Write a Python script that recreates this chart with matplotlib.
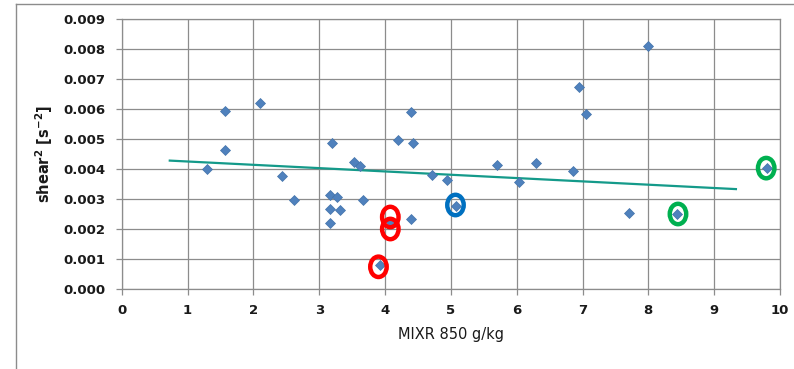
import numpy as np
import matplotlib
matplotlib.use("Agg")
import matplotlib.pyplot as plt
from matplotlib.patches import Ellipse
from matplotlib.lines import Line2D

# mixing ratio at 850 hPa (g/kg) vs squared wind shear (s^-2)
mixr = [1.29, 1.57, 1.57, 2.10, 2.43, 2.61, 3.16, 3.16, 3.16, 3.20, 3.27, 3.31,
        3.53, 3.62, 3.67, 3.93, 4.09, 4.19, 4.39, 4.39, 4.42, 4.71, 4.94, 5.08,
        5.70, 6.04, 6.29, 6.86, 6.95, 7.06, 7.71, 7.99, 8.43, 9.80]
shear2 = [0.00399, 0.00593, 0.00462, 0.00621, 0.00377, 0.00297, 0.00313, 0.00266,
          0.00221, 0.00488, 0.00306, 0.00263, 0.00422, 0.00410, 0.00297, 0.00080,
          0.00224, 0.00497, 0.00591, 0.00232, 0.00488, 0.00380, 0.00363, 0.00278,
          0.00413, 0.00358, 0.00421, 0.00394, 0.00673, 0.00582, 0.00252, 0.00810,
          0.00250, 0.00404]

# linear trend line end points
trend_x = [0.73, 9.33]
trend_y = [0.00428, 0.00333]

# hand-drawn rings around selected cases
ring_x = [4.08, 4.08, 3.90, 5.07, 8.45, 9.79]
ring_y = [0.00240, 0.00200, 0.00074, 0.00280, 0.00250, 0.00403]
ring_colors = ["#ff0000", "#ff0000", "#ff0000", "#0070c0", "#00b050", "#00b050"]

xticks = np.arange(0, 11, 1)
yticks = np.arange(0, 0.0091, 0.001)

grid_c = "#8c8c8c"

fig = plt.figure(figsize=(7.94, 3.69), dpi=100)
fig.patch.set_facecolor("white")
ax = fig.add_axes([0.1533, 0.2168, 0.8291, 0.7317])

ax.set_xlim(0, 10)
ax.set_ylim(0, 0.009)
ax.set_xticks(xticks)
ax.set_yticks(yticks)
ax.set_xticklabels([str(t) for t in xticks])
ax.set_yticklabels(["%.3f" % t for t in yticks])
ax.grid(True, color=grid_c, linewidth=0.9)
ax.set_axisbelow(True)
for s in ax.spines.values():
    s.set_color(grid_c)
    s.set_linewidth(0.9)
ax.tick_params(axis="both", direction="out", length=4, width=0.9, color=grid_c,
               labelsize=9.5, labelcolor="#1a1a1a")
ax.tick_params(axis="x", pad=7)
ax.tick_params(axis="y", pad=8)
for lab in ax.get_xticklabels() + ax.get_yticklabels():
    lab.set_fontweight("bold")

ax.plot(trend_x, trend_y, color="#149a8a", linewidth=1.6, zorder=2)
ax.plot(mixr, shear2, linestyle="none", marker="D", markersize=5,
        color="#4f81bd", markeredgecolor="#4373aa", markeredgewidth=0.5, zorder=3)

for rx, ry, rc in zip(ring_x, ring_y, ring_colors):
    ax.add_patch(Ellipse((rx, ry), 0.25, 0.00068, fill=False, edgecolor=rc,
                         linewidth=3.2, zorder=4, clip_on=False))

ax.set_xlabel("MIXR 850 g/kg", fontsize=10.5, color="#1a1a1a", labelpad=7)
ax.set_ylabel(r"shear$^{\mathbf{2}}$ [s$^{\mathbf{-2}}$]", fontsize=10.5,
              fontweight="bold", color="#1a1a1a", labelpad=6)

# outer chart frame
fig.add_artist(Line2D([16 / 794, 16 / 794], [0, 1 - 4 / 369], color=grid_c,
                      linewidth=1.0, transform=fig.transFigure))
fig.add_artist(Line2D([16 / 794, 1], [1 - 4 / 369, 1 - 4 / 369], color=grid_c,
                      linewidth=1.0, transform=fig.transFigure))

fig.savefig("out.png", dpi=100)
